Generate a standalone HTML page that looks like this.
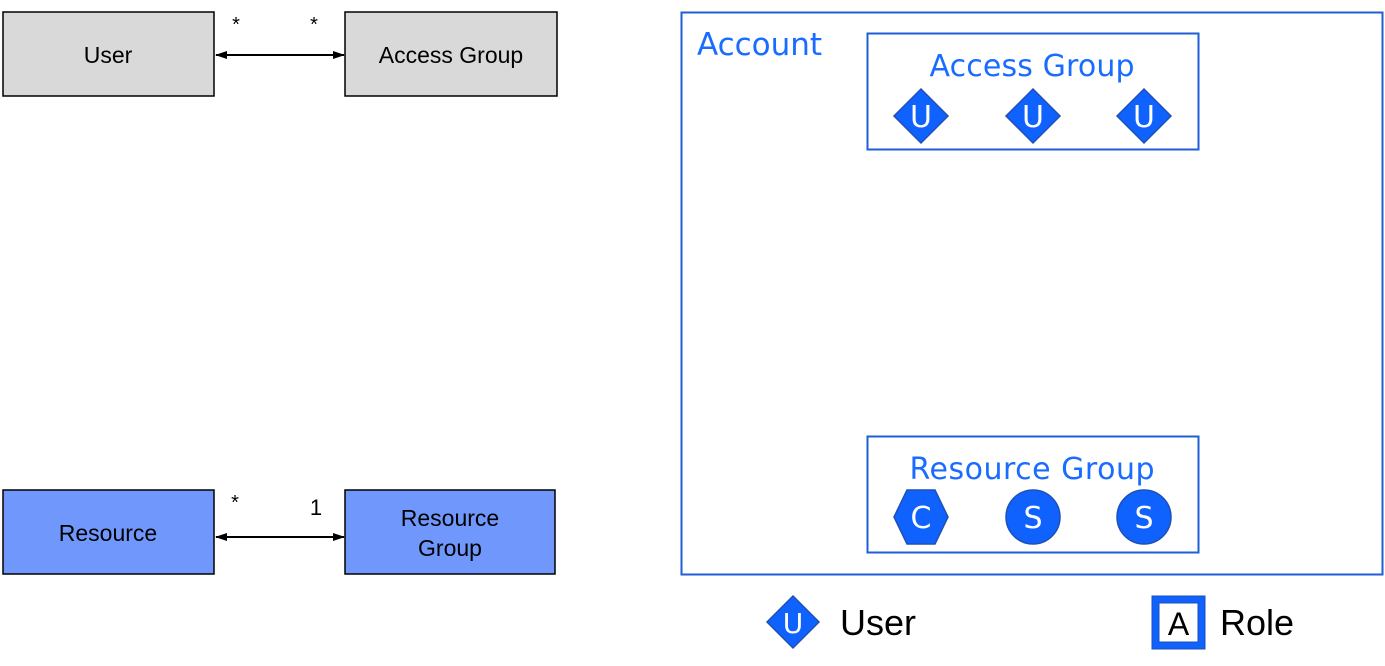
<!DOCTYPE html>
<html><head><style>body{margin:0;background:#fff}svg{display:block}</style></head><body>
<svg width="1385" height="666" xmlns="http://www.w3.org/2000/svg" font-family="Liberation Sans, sans-serif">
<defs><marker id="a" markerWidth="12" markerHeight="10" refX="11" refY="5" orient="auto-start-reverse" markerUnits="userSpaceOnUse"><path d="M0,1 L12,5 L0,9 Z" fill="#000"/></marker></defs>
<rect x="3" y="12" width="211" height="84" fill="#d9d9d9" stroke="#000" stroke-width="1.5"/>
<text x="108" y="63" font-size="23" text-anchor="middle">User</text>
<rect x="345" y="12" width="212" height="84" fill="#d9d9d9" stroke="#000" stroke-width="1.5"/>
<text x="451" y="63" font-size="23" text-anchor="middle">Access Group</text>
<line x1="216" y1="55" x2="344" y2="55" stroke="#000" stroke-width="2" marker-start="url(#a)" marker-end="url(#a)"/>
<text x="236" y="31" font-size="20" text-anchor="middle">*</text>
<text x="314" y="31" font-size="20" text-anchor="middle">*</text>
<rect x="3" y="490" width="211" height="84" fill="#7097fc" stroke="#000" stroke-width="1.5"/>
<text x="108" y="541" font-size="23" text-anchor="middle">Resource</text>
<rect x="345" y="490" width="210" height="84" fill="#7097fc" stroke="#000" stroke-width="1.5"/>
<text x="450" y="526" font-size="23" text-anchor="middle">Resource</text>
<text x="450" y="556" font-size="23" text-anchor="middle">Group</text>
<line x1="216" y1="537" x2="344" y2="537" stroke="#000" stroke-width="2" marker-start="url(#a)" marker-end="url(#a)"/>
<text x="235" y="509" font-size="20" text-anchor="middle">*</text>
<text x="316" y="515" font-size="22" text-anchor="middle">1</text>
<rect x="681.5" y="12.5" width="701" height="562" fill="none" stroke="#1f5fd6" stroke-width="2"/>
<text x="697" y="55" font-size="31" fill="#1a6bff" font-family="DejaVu Sans, sans-serif" textLength="125">Account</text>
<rect x="867.5" y="33.5" width="331" height="116" fill="none" stroke="#1f5fd6" stroke-width="2"/>
<text x="1032" y="76" font-size="30" fill="#1a6bff" text-anchor="middle" font-family="DejaVu Sans, sans-serif" textLength="205">Access Group</text>
<g fill="#0f62fe" stroke="#1f4fb8" stroke-width="1.5">
<path d="M921,89 L948,116 L921,143 L894,116 Z"/>
<path d="M1033,89 L1060,116 L1033,143 L1006,116 Z"/>
<path d="M1144,89 L1171,116 L1144,143 L1117,116 Z"/>
</g>
<g fill="#fff" font-size="30" text-anchor="middle" font-family="DejaVu Sans, sans-serif">
<text x="921" y="127">U</text><text x="1033" y="127">U</text><text x="1144" y="127">U</text>
</g>
<rect x="867.5" y="436.5" width="331" height="116" fill="none" stroke="#1f5fd6" stroke-width="2"/>
<text x="1032" y="479" font-size="30" fill="#1a6bff" text-anchor="middle" font-family="DejaVu Sans, sans-serif" textLength="245">Resource Group</text>
<g fill="#0f62fe" stroke="#1f4fb8" stroke-width="1.5">
<path d="M907,490 L935,490 L948,517 L935,544 L907,544 L894,517 Z"/>
<circle cx="1033" cy="517" r="27"/>
<circle cx="1144" cy="517" r="27"/>
</g>
<g fill="#fff" font-size="30" text-anchor="middle" font-family="DejaVu Sans, sans-serif">
<text x="921" y="528">C</text><text x="1033" y="528">S</text><text x="1144" y="528">S</text>
</g>
<path d="M793,596 L819,622 L793,648 L767,622 Z" fill="#0f62fe" stroke="#1f4fb8" stroke-width="1.5"/>
<text x="793" y="633" font-size="28" fill="#fff" text-anchor="middle" font-family="DejaVu Sans, sans-serif">U</text>
<text x="840" y="635" font-size="36">User</text>
<rect x="1152" y="596" width="53" height="53" fill="#0f62fe" stroke="#1f4fb8"/>
<rect x="1159" y="603" width="39" height="39" fill="#fff" stroke="#1f4fb8"/>
<text x="1178.5" y="635" font-size="32" text-anchor="middle">A</text>
<text x="1220" y="635" font-size="36">Role</text>
</svg>
</body></html>
